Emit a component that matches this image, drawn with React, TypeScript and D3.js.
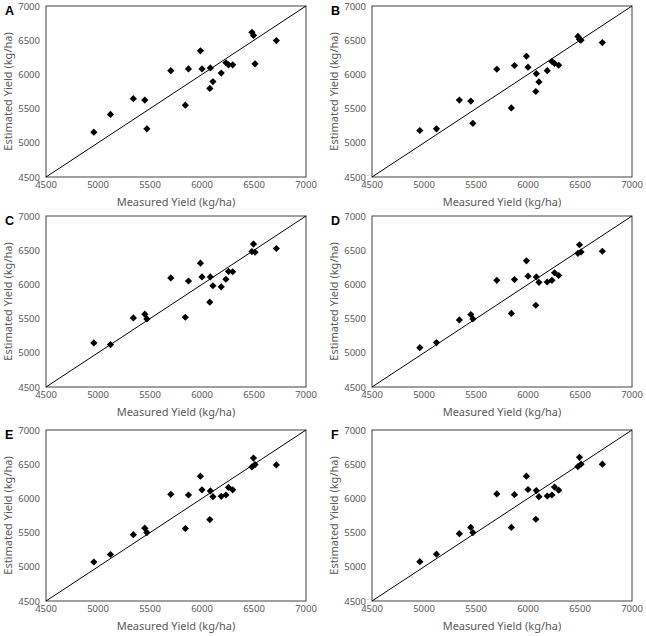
import React from "react";
import * as d3 from "d3";

const measured = [4960, 5120, 5340, 5450, 5470, 5700, 5840, 5870, 5985, 6000, 6080, 6075, 6105, 6185, 6230, 6255, 6295, 6480, 6495, 6510, 6715];

const estA = [5155, 5415, 5645, 5625, 5205, 6055, 5550, 6080, 6345, 6080, 6095, 5795, 5895, 6020, 6170, 6140, 6140, 6615, 6570, 6155, 6495];
const estB = [5180, 5205, 5625, 5610, 5285, 6075, 5510, 6130, 6265, 6105, 6010, 5750, 5890, 6055, 6190, 6160, 6135, 6555, 6510, 6500, 6465];
const estC = [5145, 5120, 5510, 5565, 5495, 6095, 5520, 6050, 6310, 6110, 6110, 5740, 5980, 5965, 6075, 6190, 6185, 6480, 6590, 6470, 6525];
const estD = [5075, 5150, 5480, 5560, 5495, 6060, 5575, 6070, 6345, 6120, 6110, 5695, 6030, 6035, 6060, 6170, 6130, 6455, 6580, 6475, 6485];
const estE = [5070, 5180, 5470, 5565, 5500, 6060, 5560, 6050, 6325, 6125, 6110, 5690, 6025, 6030, 6050, 6160, 6125, 6460, 6590, 6495, 6490];
const estF = [5075, 5185, 5485, 5575, 5500, 6065, 5575, 6055, 6325, 6130, 6115, 5695, 6025, 6035, 6050, 6165, 6120, 6465, 6600, 6500, 6500];

const panelLabels = ["A", "B", "C", "D", "E", "F"];
const panelSeries = [estA, estB, estC, estD, estE, estF];
const ticks = [4500, 5000, 5500, 6000, 6500, 7000];
const domain = [4500, 7000];
const xTitle = "Measured Yield (kg/ha)";
const yTitle = "Estimated Yield (kg/ha)";

const W = 646;
const H = 636;
const plotW = 260;
const plotH = 171;
const colLeft = [46, 372];
const rowTop = [6, 216, 430];
const font = "'Noto Sans', 'Liberation Sans', Arial, sans-serif";
const textColor = "#595959";

function Panel({ idx }: { idx: number }) {
  const left = colLeft[idx % 2];
  const top = rowTop[Math.floor(idx / 2)];
  const x = d3.scaleLinear().domain(domain).range([0, plotW]);
  const y = d3.scaleLinear().domain(domain).range([plotH, 0]);
  const est = panelSeries[idx];
  const line = d3.line<number>().x((d) => x(d)).y((d) => y(d));
  const s = 3.6;
  const diamond = `M0,${-s}L${s},0L0,${s}L${-s},0Z`;
  return (
    <g transform={`translate(${left},${top})`}>
      <text x={-41} y={9} fontFamily="'Liberation Sans', Arial, sans-serif" fontWeight="bold" fontSize={12.5} fill="#000">
        {panelLabels[idx]}
      </text>
      <rect x={0} y={0} width={plotW} height={plotH} fill="none" stroke="#404040" strokeWidth={1} />
      <path d={line(domain) || ""} stroke="#000" strokeWidth={1} fill="none" />
      {ticks.map((t) => (
        <text key={"x" + t} x={x(t)} y={plotH + 11} textAnchor="middle" fontFamily={font} fontSize={9.5} fill={textColor}>
          {t}
        </text>
      ))}
      {ticks.map((t) => (
        <text key={"y" + t} x={-6} y={y(t) + 3.5} textAnchor="end" fontFamily={font} fontSize={9.5} fill={textColor}>
          {t}
        </text>
      ))}
      <text x={plotW / 2} y={plotH + 29} textAnchor="middle" fontFamily={font} fontSize={11} fill={textColor}>
        {xTitle}
      </text>
      <text
        transform={`translate(${-34},${plotH / 2}) rotate(-90)`}
        textAnchor="middle"
        fontFamily={font}
        fontSize={11}
        fill={textColor}
      >
        {yTitle}
      </text>
      {measured.map((m, i) => (
        <path key={i} d={diamond} transform={`translate(${x(m)},${y(est[i])})`} fill="#000" />
      ))}
    </g>
  );
}

export default function App() {
  return (
    <svg width={W} height={H} style={{ position: "absolute", left: 0, top: 0, background: "#fff" }}>
      <rect width={W} height={H} fill="#fff" />
      {panelLabels.map((_, i) => (
        <Panel key={i} idx={i} />
      ))}
    </svg>
  );
}
